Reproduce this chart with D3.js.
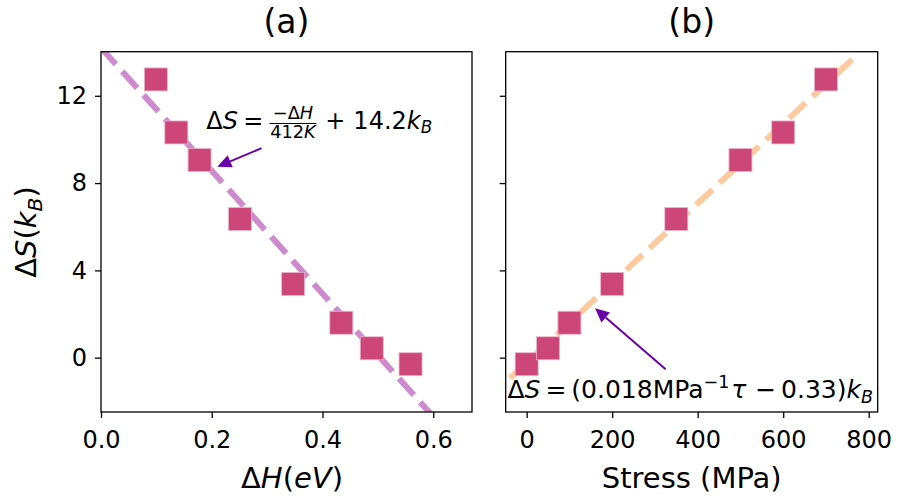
<!DOCTYPE html>
<html><head><meta charset="utf-8">
<script src="https://cdn.jsdelivr.net/npm/d3@7"></script>
<style>
body{margin:0;background:#fff}
svg{display:block}
text{font-family:"DejaVu Sans",sans-serif;fill:#000}
</style>
</head><body>
<svg id="c" width="897" height="501"></svg>
<script>
// ---------- data ----------
const enthalpyEV = [0.099, 0.136, 0.178, 0.251, 0.347, 0.434, 0.489, 0.559];
const entropyA   = [12.75, 10.32, 9.06, 6.35, 3.38, 1.60, 0.43, -0.30];
const stressMPa  = [0, 50, 100, 200, 350, 500, 600, 700];
const entropyB   = [-0.30, 0.43, 1.60, 3.38, 6.35, 9.06, 10.32, 12.75];
const fitAx = [0, 0.6];
const fitAy = [14.2, -2.7];
const fitBx = [-39, 764];
const fitBy = [-0.94, 13.71];
const yTicks = [0, 4, 8, 12];
const xTicksA = [0.0, 0.2, 0.4, 0.6];
const xTicksB = [0, 200, 400, 600, 800];
const titles = ["(a)", "(b)"];
// annotation anchors (data coords)
const annotA = {text: [0.19, 10.5], tail: [0.29, 9.6], tip: [0.21, 8.75]};
const annotB = {text: [-45, -1.86], tail: [325, -0.53], tip: [160, 2.26]};

// ---------- layout ----------
const svg = d3.select("#c");
const plotTop = 51.7, plotBottom = 412;
const y = d3.scaleLinear().domain([-2.49, 14.02]).range([plotBottom, plotTop]);
const xA = d3.scaleLinear().domain([0, 0.67]).range([101, 472]);
const xB = d3.scaleLinear().domain([-49, 821]).range([505.7, 877.7]);

const markerColor = "#cc4778";
const arrowColor = "#6a00a8";
const tickFont = 24;

const defs = svg.append("defs");
function clip(id, x) {
  defs.append("clipPath").attr("id", id).append("rect")
    .attr("x", x.range()[0]).attr("y", plotTop)
    .attr("width", x.range()[1] - x.range()[0]).attr("height", plotBottom - plotTop);
}
clip("clipA", xA); clip("clipB", xB);

function panel(x, clipId, xs, ys, fx, fy, lineColor, xTicks, xFmt, showY, title) {
  const g = svg.append("g");
  const pg = g.append("g").attr("clip-path", `url(#${clipId})`);
  const line = d3.line().x((d, i) => x(fx[i])).y((d, i) => y(fy[i]));
  pg.append("path").datum(fx).attr("d", line)
    .attr("fill", "none").attr("stroke", lineColor).attr("stroke-width", 6)
    .attr("stroke-dasharray", "22.2,9.6");
  const s = 23;
  pg.selectAll("rect.m").data(xs).join("rect").attr("class", "m")
    .attr("x", (d) => x(d) - s / 2).attr("y", (d, i) => y(ys[i]) - s / 2)
    .attr("width", s).attr("height", s)
    .attr("fill", markerColor).attr("stroke", "#eeb3cb").attr("stroke-width", 0.8);

  const ax = g.append("g").attr("transform", `translate(0,${plotBottom})`)
    .call(d3.axisBottom(x).tickValues(xTicks).tickFormat(xFmt).tickSize(6).tickPadding(13).tickSizeOuter(0));
  const ay = g.append("g").attr("transform", `translate(${x.range()[0]},0)`)
    .call(d3.axisLeft(y).tickValues(yTicks).tickFormat(showY ? d3.format("d") : "").tickSize(6).tickPadding(8).tickSizeOuter(0));
  [ax, ay].forEach(a => {
    a.select(".domain").remove();
    a.selectAll(".tick line").attr("stroke", "#000").attr("stroke-width", 1.3);
    a.selectAll(".tick text").attr("font-size", tickFont).attr("font-family", "DejaVu Sans").attr("fill", "#000");
  });
  g.append("rect").attr("x", x.range()[0]).attr("y", plotTop)
    .attr("width", x.range()[1] - x.range()[0]).attr("height", plotBottom - plotTop)
    .attr("fill", "none").attr("stroke", "#000").attr("stroke-width", 1.3);
  g.append("text").attr("x", (x.range()[0] + x.range()[1]) / 2).attr("y", 33)
    .attr("text-anchor", "middle").attr("font-size", 33).text(title);
  return g;
}

panel(xA, "clipA", enthalpyEV, entropyA, fitAx, fitAy, "rgba(156,23,158,0.5)", xTicksA, d3.format(".1f"), true, titles[0]);
panel(xB, "clipB", stressMPa, entropyB, fitBx, fitBy, "rgba(248,149,64,0.5)", xTicksB, d3.format("d"), false, titles[1]);

// ---------- math text helper ----------
function mathText(parent, x0, y0, size, segs) {
  const g = parent.append("g").attr("transform", `translate(${x0},${y0})`);
  let cx = 0;
  function put(gg, seg, px, fs) {
    const sc = seg.scale || 1;
    const t = gg.append("text").attr("x", px).attr("y", (seg.dy || 0) * fs)
      .attr("font-size", fs * sc).attr("font-style", seg.i ? "italic" : "normal").text(seg.t);
    return t.node().getComputedTextLength();
  }
  segs.forEach(seg => {
    if (seg.sp !== undefined) { cx += seg.sp * size; return; }
    if (seg.frac) {
      const fs = size * 0.74;
      const tmp = g.append("g");
      let wn = 0; seg.num.forEach(s => { wn += put(tmp, s, wn, fs); });
      let wd = 0; seg.den.forEach(s => { wd += put(tmp, s, wd, fs); });
      tmp.remove();
      const w = Math.max(wn, wd) + 0.14 * size;
      const axisY = -0.21 * size;
      let nx = cx + (w - wn) / 2;
      seg.num.forEach(s => { nx += put(g, Object.assign({}, s, {dy: (axisY - 0.2 * size) / fs}), nx, fs); });
      let dx = cx + (w - wd) / 2;
      seg.den.forEach(s => { dx += put(g, Object.assign({}, s, {dy: (axisY + 0.6 * size) / fs}), dx, fs); });
      g.append("line").attr("x1", cx + 0.04 * size).attr("x2", cx + w - 0.04 * size)
        .attr("y1", axisY).attr("y2", axisY).attr("stroke", "#000").attr("stroke-width", 1);
      cx += w;
      return;
    }
    cx += put(g, seg, cx, size);
  });
  return g;
}

function arrow(x, a) {
  const x1 = x(a.tail[0]), y1 = y(a.tail[1]), x2 = x(a.tip[0]), y2 = y(a.tip[1]);
  const ang = Math.atan2(y2 - y1, x2 - x1);
  const L = 14, W = 6.5;
  const bx = x2 - L * Math.cos(ang), by = y2 - L * Math.sin(ang);
  svg.append("line").attr("x1", x1).attr("y1", y1).attr("x2", bx).attr("y2", by)
    .attr("stroke", arrowColor).attr("stroke-width", 2);
  svg.append("path").attr("d", d3.line()([
      [x2, y2],
      [bx + W * Math.sin(ang), by - W * Math.cos(ang)],
      [bx - W * Math.sin(ang), by + W * Math.cos(ang)]
    ]) + "Z").attr("fill", arrowColor);
}

arrow(xA, annotA);
mathText(svg, xA(annotA.text[0]), y(annotA.text[1]), 24, [
  {t: "Δ"}, {t: "S", i: true}, {sp: 0.22}, {t: "="}, {sp: 0.22},
  {frac: true, num: [{t: "−"}, {t: "Δ"}, {t: "H", i: true}], den: [{t: "412"}, {t: "K", i: true}]},
  {sp: 0.33}, {t: "+"}, {sp: 0.33}, {t: "14.2"}, {t: "k", i: true},
  {t: "B", i: true, scale: 0.7, dy: 0.2}
]);
arrow(xB, annotB);
mathText(svg, xB(annotB.text[0]), y(annotB.text[1]), 25, [
  {t: "Δ"}, {t: "S", i: true}, {sp: 0.2}, {t: "="}, {sp: 0.2},
  {t: "(0.018MPa"}, {t: "−1", scale: 0.7, dy: -0.42}, {sp: 0.08}, {t: "τ", i: true},
  {sp: 0.35}, {t: "−"}, {sp: 0.2}, {t: "0.33)"}, {t: "k", i: true},
  {t: "B", i: true, scale: 0.7, dy: 0.2}
]);

// ---------- axis labels ----------
const labSize = 29;
const yl = svg.append("text").attr("transform", "translate(36,232) rotate(-90)")
  .attr("text-anchor", "middle").attr("font-size", labSize);
yl.append("tspan").text("Δ");
yl.append("tspan").attr("font-style", "italic").text("S");
yl.append("tspan").text("(");
yl.append("tspan").attr("font-style", "italic").text("k");
yl.append("tspan").attr("font-style", "italic").attr("font-size", labSize * 0.7).attr("dy", 0.2 * labSize).text("B");
yl.append("tspan").attr("dy", -0.2 * labSize).text(")");

const xl = svg.append("text").attr("x", 292).attr("y", 488)
  .attr("text-anchor", "middle").attr("font-size", labSize);
xl.append("tspan").text("Δ");
xl.append("tspan").attr("font-style", "italic").text("H");
xl.append("tspan").text("(");
xl.append("tspan").attr("font-style", "italic").text("eV");
xl.append("tspan").text(")");

svg.append("text").attr("x", (xB.range()[0] + xB.range()[1]) / 2).attr("y", 488)
  .attr("text-anchor", "middle").attr("font-size", labSize).text("Stress (MPa)");
</script>
</body></html>
